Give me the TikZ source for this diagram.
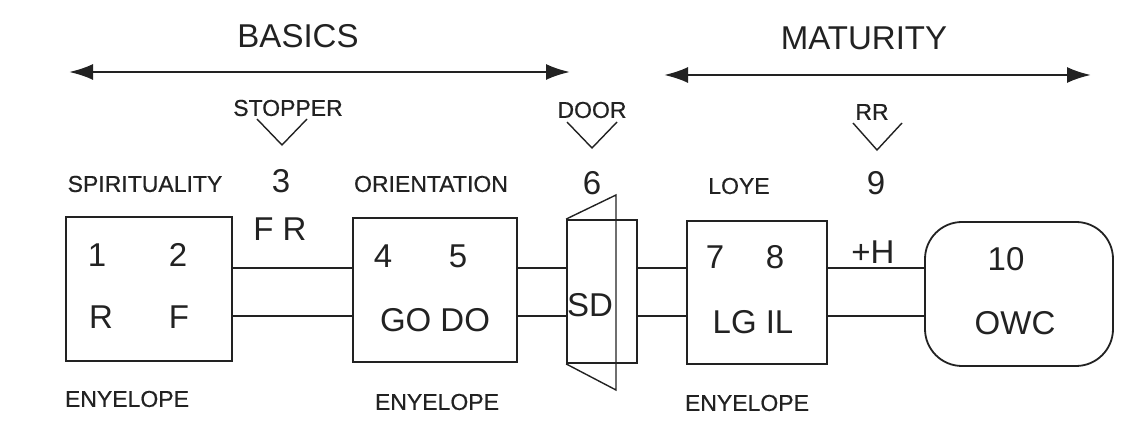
\documentclass[tikz,border=0pt]{standalone}
\usepackage{fontspec}
\setmainfont{Liberation Sans}
\newfontfamily\labelfont[FakeBold=0.6]{Liberation Sans}
\usetikzlibrary{arrows.meta}
\definecolor{ink}{HTML}{222222}
\begin{document}
\begin{tikzpicture}[x=1pt,y=1pt,
  big/.style={inner sep=0pt,text=ink,font=\fontsize{33}{36}\selectfont},
  small/.style={inner sep=0pt,text=ink,font=\labelfont\fontsize{23}{26}\selectfont},
  envbox/.style={draw=ink,line width=1.8pt,inner sep=0pt},
  link/.style={draw=ink,line width=1.8pt},
  span/.style={draw=ink,line width=2.4pt,{Latex[length=24pt,width=16pt]}-{Latex[length=24pt,width=16pt]}},
  vmark/.style={draw=ink,line width=1.4pt},
  doorline/.style={draw=ink,line width=1.4pt}]
\useasboundingbox (0,0) rectangle (1143,439);
\fill[white] (0,0) rectangle (1143,439);
% headers
\node[big] (basics) at (298,403) {BASICS};
\node[big] (maturity) at (864,401) {MATURITY};
\coordinate (a1l) at (69,367);
\coordinate (a1r) at (570,367);
\coordinate (a2l) at (664,364);
\coordinate (a2r) at (1091,364);
\draw[span] (a1l) -- (a1r);
\draw[span] (a2l) -- (a2r);
% markers
\node[small] (stopper) at (288,331) {STOPPER};
\node[small] (door) at (592,329) {DOOR};
\node[small] (rr) at (872,327) {RR};
\coordinate (v1a) at (257,320); \coordinate (v1b) at (282,294); \coordinate (v1c) at (307,320);
\coordinate (v2a) at (567,317); \coordinate (v2b) at (592,291); \coordinate (v2c) at (617,317);
\coordinate (v3a) at (853,316); \coordinate (v3b) at (877,289); \coordinate (v3c) at (902,316);
\draw[vmark] (v1a) -- (v1b) -- (v1c);
\draw[vmark] (v2a) -- (v2b) -- (v2c);
\draw[vmark] (v3a) -- (v3b) -- (v3c);
% row of titles
\node[small] (spir) at (145,255) {SPIRITUALITY};
\node[big] (n3) at (281,258) {3};
\node[small] (orient) at (431,255) {ORIENTATION};
\node[big] (n6) at (592,256) {6};
\node[small] (love) at (739,253) {LOYE};
\node[big] (n9) at (876,256) {9};
% boxes
\node[envbox,minimum width=166pt,minimum height=144pt] (b1) at (149,150) {};
\node[envbox,minimum width=164pt,minimum height=144pt] (b2) at (435,149) {};
\node[envbox,minimum width=70pt,minimum height=143pt] (dr) at (602,147.5) {};
\node[envbox,minimum width=140pt,minimum height=143pt] (b3) at (757,146.5) {};
\node[envbox,rounded corners=37pt,minimum width=188pt,minimum height=144pt] (b4) at (1019,145) {};
% door wedge
\coordinate (dtop) at (616,244);
\coordinate (dbot) at (616,49);
\draw[doorline] (dr.north west) -- (dtop) -- (dbot) -- (dr.south west);
% connectors
\coordinate (up) at (0,171);
\coordinate (lo) at (0,123);
\draw[link] (b1.east |- up) -- (b2.west |- up);
\draw[link] (b1.east |- lo) -- (b2.west |- lo);
\draw[link] (b2.east |- up) -- (dr.west |- up);
\draw[link] (b2.east |- lo) -- (dr.west |- lo);
\draw[link] (dr.east |- up) -- (b3.west |- up);
\draw[link] (dr.east |- lo) -- (b3.west |- lo);
\draw[link] (b3.east |- up) -- (b4.west |- up);
\draw[link] (b3.east |- lo) -- (b4.west |- lo);
% box contents
\node[big] (t1) at (97,184) {1};
\node[big] (t2) at (178,184) {2};
\node[big] (tR) at (101,122) {R};
\node[big] (tF) at (179,122) {F};
\node[big] (fr) at (280,210) {F R};
\node[big] (t4) at (383,183) {4};
\node[big] (t5) at (458,183) {5};
\node[big] (godo) at (435,119) {GO DO};
\node[big] (sd) at (590,134) {SD};
\node[big] (t7) at (715,182) {7};
\node[big] (t8) at (775,182) {8};
\node[big] (lgil) at (753,117) {LG IL};
\node[big] (ph) at (873,187) {+H};
\node[big] (t10) at (1006,180) {10};
\node[big] (owc) at (1015,116) {OWC};
% envelope labels
\node[small] (e1) at (127,40) {ENYELOPE};
\node[small] (e2) at (437,37) {ENYELOPE};
\node[small] (e3) at (747,36) {ENYELOPE};
\end{tikzpicture}
\end{document}
